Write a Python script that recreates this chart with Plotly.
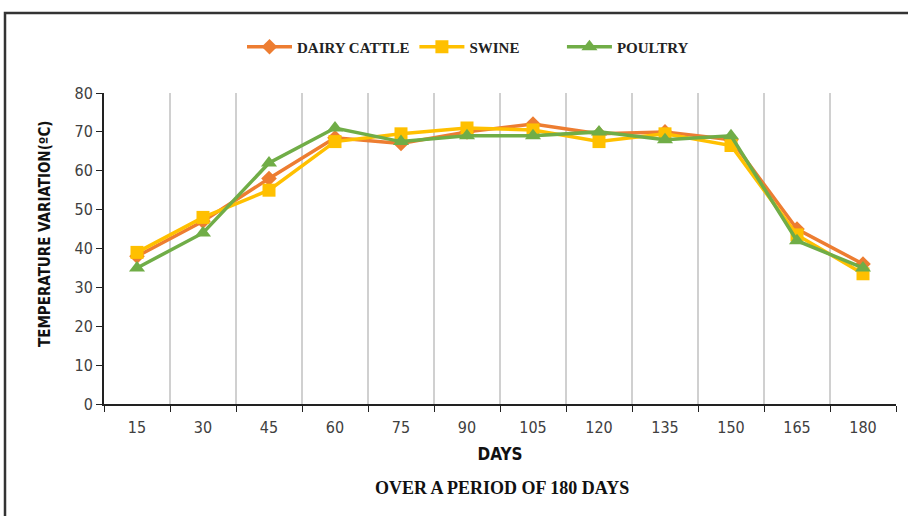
import plotly.graph_objects as go

days = ["15", "30", "45", "60", "75", "90", "105", "120", "135", "150", "165", "180"]
dairy_cattle = [38, 47, 58, 68.5, 67, 70, 72, 69.5, 70, 68, 45, 36]
swine = [39, 48, 55, 67.5, 69.5, 71, 70.5, 67.5, 69.5, 66.5, 43.5, 33.5]
poultry = [35, 44, 62, 71, 67.5, 69, 69, 70, 68, 69, 42, 35]

fig = go.Figure()
fig.add_trace(go.Scatter(x=days, y=dairy_cattle, name="<b>DAIRY CATTLE</b>", mode="lines+markers",
                         line=dict(color="#ED7D31", width=3.5),
                         marker=dict(symbol="diamond", size=12, color="#ED7D31")))
fig.add_trace(go.Scatter(x=days, y=swine, name="<b>SWINE</b>" + "&nbsp;" * 10, mode="lines+markers",
                         line=dict(color="#FFC000", width=3.5),
                         marker=dict(symbol="square", size=13, color="#FFC000")))
fig.add_trace(go.Scatter(x=days, y=poultry, name="<b>POULTRY</b>", mode="lines+markers",
                         line=dict(color="#70AD47", width=3.5),
                         marker=dict(symbol="triangle-up", size=14, color="#70AD47")))

fig.update_layout(
    width=908, height=516,
    margin=dict(l=104, r=12, t=93, b=112, autoexpand=False),
    plot_bgcolor="white", paper_bgcolor="white",
    showlegend=True,
    legend=dict(orientation="h", x=(468 - 104) / 792, xanchor="center", y=1.148, yanchor="middle",
                font=dict(family="Liberation Serif", size=15, color="#222"),
                itemwidth=45, tracegroupgap=0),
    xaxis=dict(type="category", tickson="boundaries", showgrid=True, gridcolor="#D0D0D0",
               gridwidth=1.5, ticks="outside", ticklen=6, tickcolor="#222",
               range=[-0.5, 11.5], automargin=False, ticklabelstandoff=8,
               showline=True, linecolor="#222", linewidth=2,
               tickfont=dict(family="DejaVu Sans Condensed, DejaVu Sans", size=16, color="#404040"),
               title=dict(text="<b>DAYS</b>", standoff=12,
                          font=dict(family="DejaVu Sans Condensed, DejaVu Sans", size=17, color="#111"))),
    yaxis=dict(range=[0, 80], dtick=10, showgrid=False, ticks="outside", ticklen=6,
               tickcolor="#222", showline=True, linecolor="#222", linewidth=2,
               zeroline=False, automargin=False,
               tickfont=dict(family="DejaVu Sans Condensed, DejaVu Sans", size=16, color="#404040")),
    annotations=[
        dict(text="<b>TEMPERATURE VARIATION(ºC)</b>", textangle=-90, xref="paper", yref="paper",
             x=(45 - 104) / 792, y=(404 - 234) / 311, xanchor="center", yanchor="middle", showarrow=False,
             font=dict(family="DejaVu Sans Condensed, DejaVu Sans", size=15, color="#111")),
        dict(text="<b>OVER A PERIOD OF 180 DAYS</b>", xref="paper", yref="paper",
             x=(502 - 104) / 792, y=(404 - 488) / 311, xanchor="center", yanchor="middle",
             showarrow=False,
             font=dict(family="Liberation Serif", size=18, color="#111")),
    ],
    shapes=[
        dict(type="rect", xref="paper", yref="paper",
             x0=(5 - 104) / 792, x1=(915 - 104) / 792,
             y0=(404 - 525) / 311, y1=(404 - 13) / 311,
             line=dict(color="#333", width=2.5)),
    ],
)

fig.write_html("out.html", config={"displayModeBar": False},
               post_script="document.body.style.margin='0';")
